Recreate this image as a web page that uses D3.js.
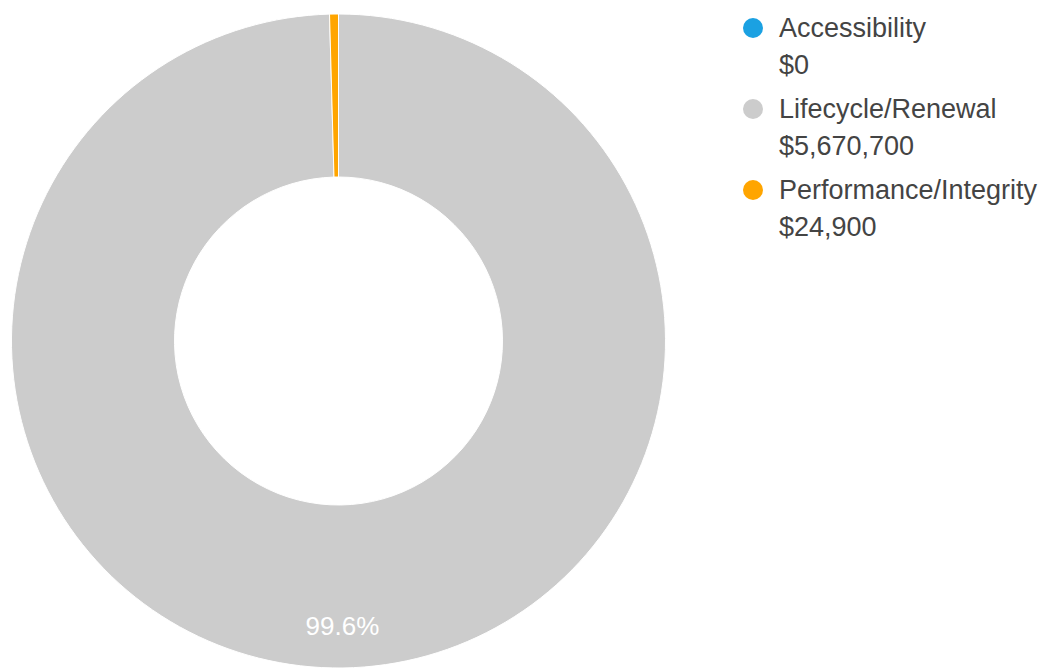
<!DOCTYPE html>
<html>
<head>
<meta charset="utf-8">
<script src="https://cdn.jsdelivr.net/npm/d3@7"></script>
<style>
  body { margin: 0; background: #fff; }
  #chart { width: 1047px; height: 671px; }
</style>
</head>
<body>
<div id="chart"></div>
<script>
const categories = ["Accessibility", "Lifecycle/Renewal", "Performance/Integrity"]
const amounts = [0, 5670700, 24900]
const colors = ["#1ba1e2", "#cccccc", "#ffa500"]

const width = 1047
const height = 671
const cx = 338.5
const cy = 341
const outerR = 327
const innerR = 164

const svg = d3.select("#chart").append("svg")
    .attr("width", width)
    .attr("height", height)

const data = categories.map((name, i) => ({name, value: amounts[i], color: colors[i]}))
const total = d3.sum(amounts)

const pie = d3.pie().sort(null).value(d => d.value)
const arcs = pie(data)

const arc = d3.arc().innerRadius(innerR).outerRadius(outerR)
const labelArc = d3.arc().innerRadius(285).outerRadius(285)

const g = svg.append("g").attr("transform", `translate(${cx}, ${cy})`)

g.selectAll("path")
    .data(arcs)
    .enter().append("path")
    .attr("d", arc)
    .attr("fill", d => d.data.color)
    .attr("stroke", "#fff")
    .attr("stroke-width", 1)

// only label slices big enough to hold text
g.selectAll("text.pct")
    .data(arcs.filter(d => d.value / total > 0.05))
    .enter().append("text")
    .attr("class", "pct")
    .attr("transform", d => `translate(${labelArc.centroid(d)})`)
    .attr("text-anchor", "middle")
    .attr("dy", "0.35em")
    .attr("fill", "#fff")
    .style("font-family", "Liberation Sans, Arial, sans-serif")
    .style("font-size", "26px")
    .text(d => (d.value / total * 100).toFixed(1) + "%")

const fmt = d3.format("$,")
const legend = svg.append("g").attr("transform", "translate(753, 28)")

const item = legend.selectAll("g")
    .data(data)
    .enter().append("g")
    .attr("transform", (d, i) => `translate(0, ${i * 81})`)

item.append("circle")
    .attr("r", 10)
    .attr("fill", d => d.color)

item.append("text")
    .attr("x", 26)
    .attr("dy", "0.35em")
    .attr("fill", "#444")
    .style("font-family", "Liberation Sans, Arial, sans-serif")
    .style("font-size", "27px")
    .text(d => d.name)

item.append("text")
    .attr("x", 26)
    .attr("y", 37)
    .attr("dy", "0.35em")
    .attr("fill", "#444")
    .style("font-family", "Liberation Sans, Arial, sans-serif")
    .style("font-size", "27px")
    .text(d => fmt(d.value))
</script>
</body>
</html>
